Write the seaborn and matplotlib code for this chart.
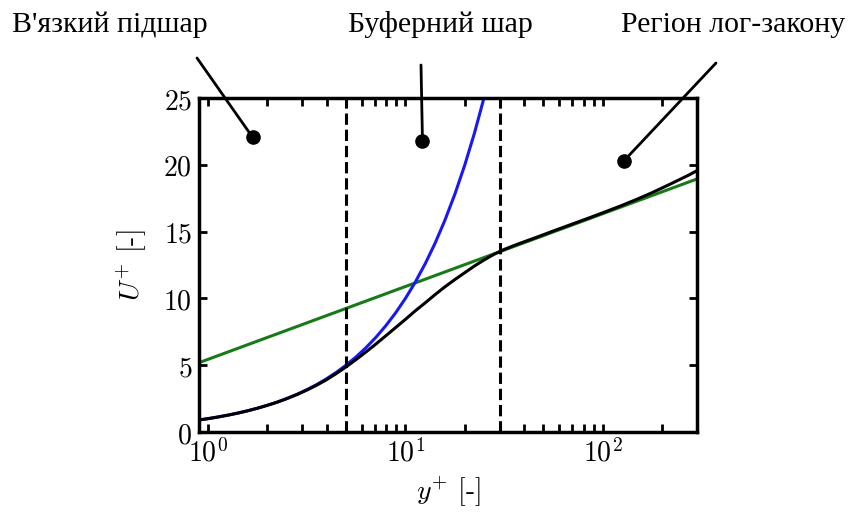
import numpy as np
import pandas as pd
import matplotlib
matplotlib.use("Agg")
import matplotlib.pyplot as plt
import matplotlib.ticker as mticker
import seaborn as sns

# Law-of-the-wall profiles, U+ versus y+
viscous_y = [0.9, 1.0, 1.12, 1.26, 1.41, 1.58, 1.78, 2.0, 2.24, 2.51, 2.82,
             3.16, 3.55, 3.98, 4.47, 5.01, 5.62, 6.31, 7.08, 7.94, 8.91, 10.0,
             11.2, 12.6, 14.1, 15.8, 17.8, 20.0, 22.4, 25.1, 28.2]
viscous_u = [0.9, 1.0, 1.12, 1.26, 1.41, 1.58, 1.78, 2.0, 2.24, 2.51, 2.82,
             3.16, 3.55, 3.98, 4.47, 5.01, 5.62, 6.31, 7.08, 7.94, 8.91, 10.0,
             11.2, 12.6, 14.1, 15.8, 17.8, 20.0, 22.4, 25.1, 28.2]

loglaw_y = [0.9, 300.0]
loglaw_u = [5.19, 18.94]

profile_y = [0.9, 1.0, 1.12, 1.26, 1.41, 1.58, 1.78, 2.0, 2.24, 2.51, 2.82,
             3.16, 3.55, 3.98, 4.47, 5.01, 5.62, 6.31, 7.08, 7.94, 8.91, 10.0,
             11.2, 12.6, 14.1, 15.8, 17.8, 20.0, 22.4, 25.1, 28.2, 31.6, 35.5,
             39.8, 44.7, 50.1, 56.2, 63.1, 70.8, 85.0, 100.0, 125.0, 150.0,
             175.0, 200.0, 225.0, 250.0, 275.0, 300.0]
profile_u = [0.9, 1.0, 1.12, 1.26, 1.41, 1.58, 1.78, 2.0, 2.23, 2.5, 2.8,
             3.13, 3.5, 3.91, 4.38, 4.88, 5.42, 5.99, 6.58, 7.19, 7.81, 8.43,
             9.06, 9.67, 10.27, 10.85, 11.41, 11.93, 12.43, 12.89, 13.31,
             13.66, 13.96, 14.23, 14.5, 14.77, 15.05, 15.32, 15.59, 16.02,
             16.41, 16.96, 17.44, 17.87, 18.27, 18.63, 18.96, 19.26, 19.56]

region_bounds = [5.0, 30.0]

region_labels = ["В'язкий підшар", "Буферний шар", "Регіон лог-закону"]
region_dots_y = [1.68, 12.2, 128.0]
region_dots_u = [22.07, 21.8, 20.3]

y_ticks = [0, 5, 10, 15, 20, 25]
x_major = [1, 10, 100]

sns.set_style("ticks")
plt.rcParams.update({
    "mathtext.fontset": "cm",
    "text.color": "black",
    "axes.labelcolor": "black",
    "xtick.color": "black",
    "ytick.color": "black",
})

W, H = 848, 512
fig = plt.figure(figsize=(W / 100, H / 100), dpi=100)
ax = fig.add_axes([199 / W, 1 - 432 / H, (697 - 199) / W, (432 - 98) / H])
ax.set_xscale("log")

lw = 2.2
sns.lineplot(data=pd.DataFrame({"y": loglaw_y, "u": loglaw_u}), x="y", y="u",
             ax=ax, color="#177a17", lw=lw, sort=False, estimator=None)
sns.lineplot(data=pd.DataFrame({"y": viscous_y, "u": viscous_u}), x="y", y="u",
             ax=ax, color="#1818f5", lw=lw, sort=False, estimator=None)
sns.lineplot(data=pd.DataFrame({"y": profile_y, "u": profile_u}), x="y", y="u",
             ax=ax, color="black", lw=lw, sort=False, estimator=None)

for b in region_bounds:
    ax.axvline(b, color="black", lw=2.2, ls="--", zorder=5)

ax.set_xlim(0.9, 300)
ax.set_ylim(0, 25)

ax.set_yticks(y_ticks)
ax.yaxis.set_major_formatter(mticker.FuncFormatter(lambda v, p: r"$%d$" % v))
ax.xaxis.set_major_locator(mticker.FixedLocator(x_major))
ax.xaxis.set_minor_locator(mticker.LogLocator(base=10, subs=np.arange(2, 10), numticks=20))
ax.xaxis.set_major_formatter(
    mticker.FuncFormatter(lambda v, p: r"$10^{%d}$" % int(round(np.log10(v)))))
ax.xaxis.set_minor_formatter(mticker.NullFormatter())

for s in ax.spines.values():
    s.set_visible(True)
    s.set_linewidth(2.5)
    s.set_color("black")

ax.tick_params(which="both", direction="in", top=True, right=True,
               length=5.5, width=2.0, color="black")
ax.tick_params(which="major", labelsize=20, pad=5)

ax.set_xlabel(r"$y^{+}$ [-]", fontsize=20, family="cmr10", labelpad=5)
ax.set_ylabel(r"$U^{+}$ [-]", fontsize=20, family="cmr10", labelpad=10)

# Region labels with leader lines pointing into the plot
label_centers = [(110, 25), (440, 25), (733, 25)]
line_starts = [(197, 58), (421, 65), (716, 63)]
for text, (tx, ty), (lx, ly), dy, du in zip(region_labels, label_centers,
                                             line_starts, region_dots_y,
                                             region_dots_u):
    fig.text(tx / W, 1 - ty / H, text, ha="center", va="center",
             fontsize=21.5, family="Liberation Serif", color="black")
    ax.annotate("", xy=(dy, du), xycoords="data",
                xytext=(lx / W, 1 - ly / H), textcoords="figure fraction",
                arrowprops=dict(arrowstyle="-", lw=2.0, color="black",
                                shrinkA=0, shrinkB=0),
                annotation_clip=False)
    ax.plot([dy], [du], marker="o", ms=9.5, color="black", zorder=6,
            clip_on=False)

fig.savefig("out.png", dpi=100)
